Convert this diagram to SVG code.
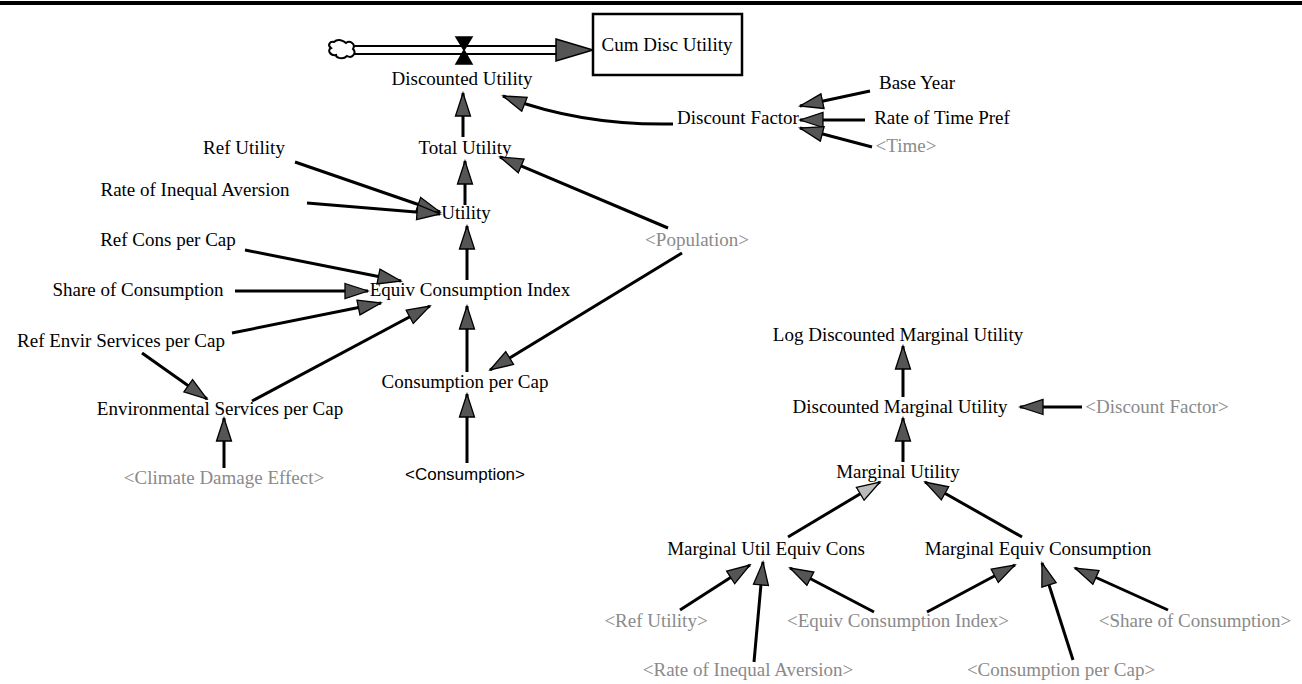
<svg xmlns="http://www.w3.org/2000/svg" width="1302" height="684" viewBox="0 0 1302 684">
<style>
  .t { font-family: "Liberation Serif", "Times New Roman", serif; font-size: 19px; fill: #000; text-anchor: middle; }
  .s { font-family: "Liberation Serif", "Times New Roman", serif; font-size: 19px; fill: #8a8a8a; text-anchor: middle; }
  .a { font-family: "Liberation Sans", Arial, sans-serif; font-size: 17px; fill: #000; text-anchor: middle; }
  .c { fill: none; stroke: #000; stroke-width: 3; marker-end: url(#ah); }
  .l { fill: none; stroke: #000; stroke-width: 3; marker-end: url(#ahl); }
</style>
<defs>
  <marker id="ah" markerUnits="userSpaceOnUse" viewBox="0 0 26 18" markerWidth="26" markerHeight="18" refX="24" refY="9" orient="auto">
    <path d="M1,1.5 L24,9 L1,16.5 z" fill="#555" stroke="#000" stroke-width="1.3"/>
  </marker>
  <marker id="ahl" markerUnits="userSpaceOnUse" viewBox="0 0 26 18" markerWidth="26" markerHeight="18" refX="24" refY="9" orient="auto">
    <path d="M1,1.5 L24,9 L1,16.5 z" fill="#bbb" stroke="#000" stroke-width="1.3"/>
  </marker>
</defs>
<rect width="1302" height="684" fill="#fff"/>
<line x1="0" y1="3" x2="1302" y2="3" stroke="#000" stroke-width="4"/>

<g id="connectors">
  <!-- flow pipe -->
  <line x1="352" y1="46" x2="558" y2="46" stroke="#000" stroke-width="2"/>
  <line x1="352" y1="54" x2="558" y2="54" stroke="#000" stroke-width="2"/>
  <polygon points="556,39 593,50 556,61" fill="#555" stroke="#000" stroke-width="1.5"/>
  <path d="M456,37 L472,37 L464,50 L472,64 L456,64 L464,50 z" fill="#000" stroke="#000" stroke-width="1.5"/>
  <!-- top cluster -->
  <path class="c" d="M463,137 L463,93"/>
  <path class="c" d="M673,124 C620,125 560,118 503,96"/>
  <path class="c" d="M870,91 L800,106"/>
  <path class="c" d="M865,120 L800,120"/>
  <path class="c" d="M872,147 L800,128"/>
  <!-- left cluster -->
  <path class="c" d="M465,205 L465,161"/>
  <path class="c" d="M295,162 L440,212"/>
  <path class="c" d="M307,203 L440,214"/>
  <path class="c" d="M467,280 L467,226"/>
  <path class="c" d="M245,250 L401,281"/>
  <path class="c" d="M235,291 L368,291"/>
  <path class="c" d="M232,333 L381,303"/>
  <path class="c" d="M252,401 L430,306"/>
  <path class="c" d="M467,372 L467,306"/>
  <path class="c" d="M668,228 L500,157"/>
  <path class="c" d="M682,253 L490,370"/>
  <path class="c" d="M142,353 L207,399"/>
  <path class="c" d="M224,468 L224,418"/>
  <path class="c" d="M467,463 L467,394"/>
  <!-- right cluster -->
  <path class="c" d="M903,397 L903,346"/>
  <path class="c" d="M903,462 L903,418"/>
  <path class="c" d="M1082,407 L1020,407"/>
  <path class="l" d="M788,537 L880,482"/>
  <path class="c" d="M1022,537 L925,482"/>
  <path class="c" d="M680,610 L750,565"/>
  <path class="c" d="M754,662 L763,562"/>
  <path class="c" d="M874,612 L790,568"/>
  <path class="c" d="M927,612 L1015,565"/>
  <path class="c" d="M1073,660 L1042,563"/>
  <path class="c" d="M1168,610 L1075,568"/>
</g>

<g id="cloud"><path d="M334,42 C338,38 344,41 346,43 C350,40 356,44 353,49 C357,53 352,59 347,56 C343,60 336,58 336,55 C330,56 327,50 331,48 C327,45 330,41 334,42 z" fill="#fff" stroke="#000" stroke-width="2"/></g>
<g id="cum-disc-utility"><rect x="593" y="14" width="149" height="61" fill="#fff" stroke="#000" stroke-width="2.5"/><text class="t" x="667" y="51">Cum Disc Utility</text></g>
<g id="discounted-utility"><text class="t" x="462" y="85">Discounted Utility</text></g>
<g id="discount-factor"><text class="t" x="738" y="124">Discount Factor</text></g>
<g id="base-year"><text class="t" x="917" y="89">Base Year</text></g>
<g id="rate-of-time-pref"><text class="t" x="942" y="124">Rate of Time Pref</text></g>
<g id="time-shadow"><text class="s" x="906" y="152">&lt;Time&gt;</text></g>
<g id="total-utility"><text class="t" x="465" y="154">Total Utility</text></g>
<g id="ref-utility"><text class="t" x="244" y="154">Ref Utility</text></g>
<g id="rate-of-inequal-aversion"><text class="t" x="195" y="196">Rate of Inequal Aversion</text></g>
<g id="utility"><text class="t" x="466" y="219">Utility</text></g>
<g id="ref-cons-per-cap"><text class="t" x="168" y="246">Ref Cons per Cap</text></g>
<g id="share-of-consumption"><text class="t" x="138" y="296">Share of Consumption</text></g>
<g id="equiv-consumption-index"><text class="t" x="470" y="296">Equiv Consumption Index</text></g>
<g id="ref-envir-services-per-cap"><text class="t" x="121" y="347">Ref Envir Services per Cap</text></g>
<g id="environmental-services-per-cap"><text class="t" x="220" y="415">Environmental Services per Cap</text></g>
<g id="consumption-per-cap"><text class="t" x="465" y="388">Consumption per Cap</text></g>
<g id="population-shadow"><text class="s" x="697" y="246">&lt;Population&gt;</text></g>
<g id="climate-damage-effect-shadow"><text class="s" x="224" y="484">&lt;Climate Damage Effect&gt;</text></g>
<g id="consumption-shadow"><text class="a" x="465" y="480">&lt;Consumption&gt;</text></g>
<g id="log-discounted-marginal-utility"><text class="t" x="898" y="341">Log Discounted Marginal Utility</text></g>
<g id="discounted-marginal-utility"><text class="t" x="900" y="413">Discounted Marginal Utility</text></g>
<g id="discount-factor-shadow"><text class="s" x="1157" y="413">&lt;Discount Factor&gt;</text></g>
<g id="marginal-utility"><text class="t" x="898" y="478">Marginal Utility</text></g>
<g id="marginal-util-equiv-cons"><text class="t" x="766" y="555">Marginal Util Equiv Cons</text></g>
<g id="marginal-equiv-consumption"><text class="t" x="1038" y="555">Marginal Equiv Consumption</text></g>
<g id="ref-utility-shadow"><text class="s" x="656" y="627">&lt;Ref Utility&gt;</text></g>
<g id="eci-shadow"><text class="s" x="898" y="627">&lt;Equiv Consumption Index&gt;</text></g>
<g id="share-of-consumption-shadow"><text class="s" x="1195" y="627">&lt;Share of Consumption&gt;</text></g>
<g id="rate-of-inequal-aversion-shadow"><text class="s" x="748" y="676">&lt;Rate of Inequal Aversion&gt;</text></g>
<g id="consumption-per-cap-shadow"><text class="s" x="1061" y="676">&lt;Consumption per Cap&gt;</text></g>
</svg>
